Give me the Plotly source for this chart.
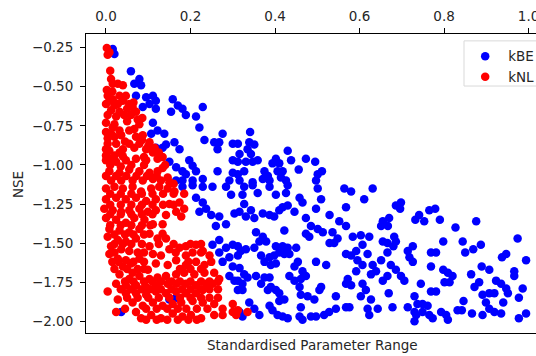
import plotly.graph_objects as go

# ---- data ----
kbe_x = [
    .016,.020,.059,.079,.067,.083,
    .071,.095,.111,.118,.103,.087,.118,
    .158,.170,.181,.229,.189,.213,.221,.154,
    .111,.122,.138,.107,.142,.162,.174,.118,.134,
    .233,.256,.276,.268,.300,.264,
    .150,.166,.181,.197,.205,.189,.213,.229,.264,.300,.300,.292,
    .166,.181,.205,
    .341,.339,.351,.335,.312,
    .316,.312,.343,.347,.359,.331,
    .430,.438,
    .402,.394,.410,.406,.418,.414,.426,
    .375,.383,.371,.387,
    .327,.312,.316,.347,
    .473,.495,.456,.501,.511,.497,
    .181,.205,.229,.252,.284,.296,.213,.229,.237,.249,.221,.268,.284,.260,.304,
    .252,.268,.284,.268,.300,.292,.276,.300,.292,.304,
    .150,.166,.036,
    .327,.347,.387,.430,.501,.564,.580,.631,
    .323,.359,.402,.426,.458,.465,.509,.497,.611,.568,
    .327,.316,.331,.351,.343,
    .371,.387,.398,.418,.430,.410,
    .446,.473,.485,.501,.513,.473,.481,
    .529,.552,.568,.536,.548,.529,.540,
    .655,.651,.422,
    .355,.371,.379,.363,.351,
    .584,.603,.623,.607,.592,.580,.568,.619,.655,
    .402,.418,.430,.410,.422,.398,.434,.450,
    .312,.319,.312,.331,
    .367,.387,.375,.390,.402,
    .454,.446,.465,.461,.473,.497,.521,
    .595,.607,.592,.627,.631,.639,.651,.655,
    .316,.327,.312,.323,.335,.323,.312,
    .355,.375,.387,.367,.390,.402,.383,
    .434,.446,.410,.410,.422,
    .458,.461,.477,.493,.509,.505,.544,
    .572,.568,.580,.607,.615,.603,.627,
    .339,.351,.363,.387,.394,.406,.418,.430,
    .461,.458,.465,.485,.497,.516,.528,.544,
    .568,.576,.619,.623,.643,.316,.323,
    .698,.686,.696,.670,.667,
    .741,.732,.753,.765,.779,.790,.827,.876,.974,
    .798,.844,.887,.869,.850,
    .682,.686,.680,.666,.666,
    .726,.714,.718,.726,.769,.781,.947,.937,.994,
    .674,.686,.698,.706,.666,.769,
    .798,.809,.820,.801,.813,.864,.889,.907,.966,.966,
    .883,.872,.923,.935,.947,.951,.919,.907,.986,.977,
    .745,.769,.781,.669,.730,.891,.846,.940,
    .899,.907,.919,.935,.678,
    .714,.737,.749,.761,.730,.734,.730,.749,.765,.773,
    .793,.805,.809,.832,.842,.866,.891,.977,.994,
]
kbe_y = [
    -0.258,-0.29,-0.40,-0.45,-0.48,-0.49,
    -0.557,-0.567,-0.557,-0.59,-0.61,-0.63,-0.64,
    -0.58,-0.62,-0.64,-0.63,-0.68,-0.69,-0.76,-0.66,
    -0.73,-0.78,-0.80,-0.80,-0.87,-0.855,-0.90,-0.89,-0.89,
    -0.84,-0.855,-0.80,-0.855,-0.865,-0.90,
    -0.98,-1.015,-1.04,-0.97,-1.005,-1.06,-1.04,-1.09,-1.04,-0.97,-1.05,-1.10,
    -1.10,-1.10,-1.10,
    -0.79,-0.855,-0.87,-0.90,-0.865,
    -0.93,-0.98,-0.93,-0.98,-0.97,-0.98,
    -0.91,-0.97,
    -0.96,-0.99,-0.99,-1.04,-1.04,-1.08,-1.10,
    -1.04,-1.07,-1.09,-1.10,
    -1.04,-1.06,-1.10,-1.11,
    -0.96,-0.98,-1.03,-1.06,-1.04,-1.10,
    -1.14,-1.13,-1.14,-1.14,-1.14,-1.19,-1.21,-1.24,-1.28,-1.32,-1.30,-1.33,-1.38,-1.39,-1.31,
    -1.51,-1.48,-1.53,-1.56,-1.51,-1.59,-1.62,-1.65,-1.71,-1.74,
    -1.86,-1.85,-1.94,
    -1.14,-1.13,-1.14,-1.13,-1.15,-1.15,-1.17,-1.15,
    -1.19,-1.18,-1.19,-1.18,-1.21,-1.24,-1.22,-1.28,-1.22,-1.27,
    -1.25,-1.30,-1.33,-1.34,-1.29,
    -1.31,-1.32,-1.33,-1.27,-1.26,-1.29,
    -1.30,-1.34,-1.39,-1.41,-1.43,-1.44,-1.46,
    -1.32,-1.36,-1.39,-1.43,-1.47,-1.50,-1.50,
    -1.36,-1.39,-1.42,
    -1.43,-1.46,-1.49,-1.49,-1.53,
    -1.46,-1.45,-1.46,-1.51,-1.55,-1.58,-1.57,-1.57,-1.49,
    -1.52,-1.52,-1.53,-1.56,-1.57,-1.58,-1.57,-1.53,
    -1.52,-1.55,-1.58,-1.54,
    -1.58,-1.59,-1.62,-1.64,-1.63,
    -1.62,-1.65,-1.68,-1.73,-1.71,-1.62,-1.64,
    -1.61,-1.64,-1.68,-1.70,-1.64,-1.68,-1.61,-1.74,
    -1.66,-1.70,-1.74,-1.76,-1.72,-1.80,-1.80,
    -1.71,-1.72,-1.72,-1.76,-1.78,-1.80,-1.80,
    -1.71,-1.74,-1.82,-1.87,-1.86,
    -1.78,-1.83,-1.84,-1.86,-1.78,-1.80,-1.84,
    -1.73,-1.76,-1.77,-1.76,-1.80,-1.84,-1.86,
    -1.88,-1.92,-1.96,-1.90,-1.93,-1.96,-1.97,-1.98,
    -1.91,-1.97,-1.99,-1.97,-1.97,-1.96,-1.94,-1.92,
    -1.91,-1.91,-1.92,-1.96,-1.92,-1.94,-1.97,
    -1.24,-1.26,-1.28,-1.34,-1.39,
    -1.32,-1.35,-1.36,-1.29,-1.28,-1.35,-1.40,-1.36,-1.47,
    -1.49,-1.49,-1.51,-1.54,-1.56,
    -1.46,-1.49,-1.52,-1.50,-1.56,
    -1.52,-1.55,-1.59,-1.62,-1.56,-1.56,-1.57,-1.59,-1.61,
    -1.64,-1.67,-1.71,-1.74,-1.71,-1.65,
    -1.67,-1.69,-1.71,-1.75,-1.75,-1.70,-1.65,-1.67,-1.68,-1.71,
    -1.75,-1.78,-1.74,-1.76,-1.79,-1.82,-1.82,-1.82,-1.79,-1.85,
    -1.76,-1.81,-1.81,-1.82,-1.84,-1.83,-1.87,-1.88,
    -1.88,-1.92,-1.94,-1.95,-1.91,
    -1.91,-1.89,-1.89,-1.90,-1.94,-1.96,-2.00,-1.94,-1.96,-1.98,
    -1.94,-1.96,-1.99,-1.93,-1.93,-1.95,-1.96,-1.98,-1.95,
]
knl_x = [
    .002,.008,.004,.010,.012,.016,.028,.040,
    .004,.000,.008,.032,.047,.040,.055,.063,.028,
    .012,.032,.043,.059,.071,.075,.079,
    .000,.016,.012,.032,.036,.055,.067,.071,.087,
    .004,.024,.008,.032,.012,.055,.067,.079,.103,.095,.111,
    .000,.024,.047,.071,.095,.122,.134,
    .008,.032,.055,.079,.103,.122,.134,.146,
    .012,.036,.063,.087,.111,.130,.150,
    .000,.020,.040,.063,.083,.107,.126,.146,.162,
    .000,.024,.047,.071,.095,.118,.150,.174,.185,.166,.178,.142,
    -0.004,.016,.036,.055,.079,.099,.118,
    .000,.024,.047,.067,.091,.111,.134,
    .008,.032,.055,.079,.103,.134,.122,.142,
    .004,.012,.028,.047,.071,.036,.055,
    .008,.028,.047,.040,.059,.079,.063,
    .103,.111,.130,.150,.174,.189,.213,.205,.189,
    .229,.245,.249,.233,.213,.189,.166,.146,.118,.099,
    .032,.055,.079,.103,.122,.142,.166,.185,.209,.233,.256,
    .268,.252,.237,.213,.189,.166,.146,.118,.095,.071,.047,
    .024,.004,.028,
    .047,.071,.095,.118,.142,.166,.189,.213,.229,
    .063,.087,.111,.134,.158,.178,.205,.229,
    .256,.276,.300,.256,.276,.300,
    .024,.071,.083,.107,.130,.158,.181,.201,.225,
    .312,.335,.308,
    # denser core of the cluster
    .002,.015,.016,.020,.050,.065,.024,.004,.086,.050,.000,.020,
    .004,.020,.045,.020,.040,.085,.100,.115,.125,.090,.000,.000,.040,
    .010,.035,.060,.090,.140,.000,.024,.048,.072,.097,.120,.160,
    .010,.035,.060,.085,.110,.135,.160,.185,
    .010,.035,.060,.085,.110,.135,.160,
    .010,.035,.060,.085,.110,
    .010,.035,.060,.085,.105,
    .020,.045,.065,.090,
    .020,.040,.060,.085,.125,.160,.200,.225,
    .020,.075,.090,.165,.225,
    .015,.030,.065,.090,.195,
    .020,.050,.075,.090,.175,.200,.225,
    .045,.065,.090,.110,.130,.155,.175,.200,.225,.245,.265,
    .035,.060,.085,.105,.130,.155,.180,.200,.225,.245,.265,
    .050,.075,.100,.125,.150,.175,.200,.225,.245,.265,
    .045,.095,.120,.145,.170,.190,.215,.240,
    .095,.120,.145,.170,.195,.215,
]
knl_y = [
    -0.252,-0.28,-0.295,-0.397,-0.45,-0.48,-0.48,-0.49,
    -0.557,-0.61,-0.59,-0.557,-0.557,-0.59,-0.61,-0.63,-0.61,
    -0.65,-0.66,-0.68,-0.68,-0.66,-0.71,-0.74,
    -0.79,-0.76,-0.80,-0.78,-0.81,-0.78,-0.77,-0.82,-0.81,
    -0.865,-0.865,-0.91,-0.92,-0.96,-0.865,-0.89,-0.865,-0.855,-0.90,-0.92,
    -0.97,-0.98,-0.97,-0.96,-0.97,-0.96,-0.95,
    -1.04,-1.05,-1.03,-1.04,-1.05,-1.04,-1.02,-1.08,
    -1.10,-1.10,-1.10,-1.10,-1.09,-1.10,-1.11,
    -1.15,-1.14,-1.15,-1.14,-1.17,-1.15,-1.14,-1.15,-1.17,
    -1.22,-1.21,-1.22,-1.21,-1.23,-1.22,-1.25,-1.24,-1.28,-1.30,-1.33,-1.32,
    -1.28,-1.29,-1.30,-1.29,-1.28,-1.30,-1.29,
    -1.34,-1.35,-1.37,-1.34,-1.35,-1.38,-1.38,
    -1.41,-1.42,-1.43,-1.41,-1.44,-1.44,-1.47,-1.47,
    -1.46,-1.52,-1.48,-1.49,-1.47,-1.54,-1.55,
    -1.57,-1.60,-1.61,-1.65,-1.63,-1.60,-1.69,
    -1.52,-1.57,-1.58,-1.54,-1.53,-1.52,-1.51,-1.56,-1.58,
    -1.55,-1.58,-1.62,-1.64,-1.62,-1.64,-1.61,-1.64,-1.63,-1.67,
    -1.70,-1.73,-1.71,-1.73,-1.72,-1.71,-1.70,-1.69,-1.70,-1.69,-1.69,
    -1.73,-1.76,-1.76,-1.77,-1.76,-1.76,-1.76,-1.77,-1.78,-1.77,-1.77,
    -1.76,-1.81,-1.86,
    -1.82,-1.82,-1.83,-1.81,-1.82,-1.81,-1.82,-1.82,-1.80,
    -1.88,-1.90,-1.88,-1.90,-1.89,-1.88,-1.87,-1.88,
    -1.89,-1.92,-1.89,-1.96,-1.96,-1.94,
    -1.94,-1.94,-1.98,-1.96,-1.98,-1.95,-1.97,-1.96,-1.98,
    -1.93,-1.94,-1.96,
    # denser core of the cluster
    -0.52,-0.53,-0.58,-0.62,-0.64,-0.60,-0.69,-0.68,-0.70,-0.72,-0.73,-0.74,
    -0.83,-0.82,-0.85,-0.94,-0.90,-0.84,-0.88,-0.89,-0.92,-0.95,-0.90,-0.94,-0.945,
    -1.00,-1.01,-1.00,-1.00,-1.00,-1.07,-1.07,-1.07,-1.07,-1.07,-1.07,-1.12,
    -1.185,-1.185,-1.185,-1.185,-1.185,-1.185,-1.185,-1.185,
    -1.255,-1.255,-1.255,-1.255,-1.255,-1.255,-1.255,
    -1.315,-1.315,-1.315,-1.315,-1.315,
    -1.385,-1.385,-1.385,-1.385,-1.385,
    -1.445,-1.445,-1.445,-1.445,
    -1.505,-1.505,-1.505,-1.505,-1.505,-1.505,-1.505,-1.505,
    -1.56,-1.56,-1.56,-1.56,-1.56,
    -1.62,-1.62,-1.62,-1.62,-1.62,
    -1.665,-1.665,-1.665,-1.665,-1.665,-1.665,-1.665,
    -1.745,-1.745,-1.745,-1.745,-1.745,-1.745,-1.745,-1.745,-1.745,-1.745,-1.745,
    -1.795,-1.795,-1.795,-1.795,-1.795,-1.795,-1.795,-1.795,-1.795,-1.795,-1.795,
    -1.85,-1.85,-1.85,-1.85,-1.85,-1.85,-1.85,-1.85,-1.85,-1.85,
    -1.92,-1.92,-1.92,-1.92,-1.92,-1.92,-1.92,-1.92,
    -1.99,-1.99,-1.99,-1.99,-1.99,-1.99,
]
series_names = ["kBE", "kNL"]
x_ticks = [0.0, 0.2, 0.4, 0.6, 0.8, 1.0]
y_ticks = [-0.25, -0.5, -0.75, -1.0, -1.25, -1.5, -1.75, -2.0]

FONT = "DejaVu Sans"
FS = 13.5
fig = go.Figure()
fig.add_trace(go.Scatter(x=kbe_x, y=kbe_y, mode="markers", name=series_names[0],
                         marker=dict(color="#0000ff", size=8.5, line=dict(width=0))))
fig.add_trace(go.Scatter(x=knl_x, y=knl_y, mode="markers", name=series_names[1],
                         marker=dict(color="#ff0000", size=8.5, line=dict(width=0))))

fig.update_layout(
    width=536, height=356,
    margin=dict(l=86, r=0, t=34, b=23, autoexpand=False),
    paper_bgcolor="white", plot_bgcolor="white",
    font=dict(family=FONT, size=FS, color="#262626"),
    showlegend=True,
    legend=dict(x=0.836, y=0.977, xanchor="left", yanchor="top",
                bgcolor="rgba(0,0,0,0)", borderwidth=0,
                font=dict(family=FONT, size=FS, color="#262626"),
                itemwidth=36),
    # legend frame: in the reference it runs past the right edge of the image
    shapes=[dict(type="rect", xref="paper", yref="paper", layer="above",
                 x0=0.840, x1=1.06, y0=0.826, y1=0.977,
                 line=dict(color="#d9d9d9", width=1),
                 fillcolor="rgba(255,255,255,0.8)")],
    xaxis=dict(side="top", range=[-0.0473, 1.0175], tickvals=x_ticks,
               ticktext=[f"{v:.1f}" for v in x_ticks], ticklabeloverflow="allow",
               showgrid=False, zeroline=False, showline=True, linecolor="black",
               linewidth=1, mirror=True, ticks="outside", ticklen=5, tickwidth=1,
               tickcolor="black", ticklabelstandoff=2, automargin=False),
    yaxis=dict(range=[-2.075, -0.1625], tickvals=y_ticks,
               ticktext=[f"\u2212{abs(v):.2f}" for v in y_ticks],
               showgrid=False, zeroline=False, showline=True, linecolor="black",
               linewidth=1, mirror=False, ticks="outside", ticklen=5, tickwidth=1,
               tickcolor="black", ticklabelstandoff=4, automargin=False),
    annotations=[
        dict(text="Standardised Parameter Range", xref="paper", yref="paper",
             x=0.504, y=-0.04, xanchor="center", yanchor="middle", showarrow=False,
             font=dict(family=FONT, size=FS, color="#262626")),
        dict(text="NSE", xref="paper", yref="paper", x=-0.151, y=0.495,
             xanchor="center", yanchor="middle", textangle=-90, showarrow=False,
             font=dict(family=FONT, size=FS, color="#262626")),
    ],
)
fig.write_html("out.html")
